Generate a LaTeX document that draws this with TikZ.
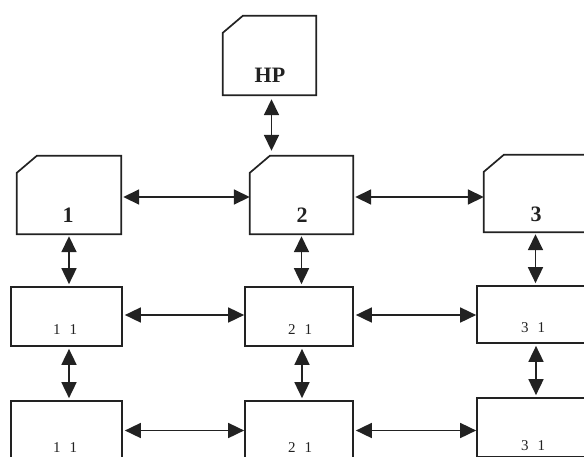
\documentclass[tikz,border=0pt]{standalone}
\usepackage{fontspec}
\setmainfont{Liberation Serif}
\usetikzlibrary{arrows.meta,calc}
\definecolor{ink}{HTML}{222222}
\tikzset{
  box/.style={draw=ink, line width=1.7pt, minimum width=#1, inner sep=0pt},
  ghost/.style={draw=none, minimum width=#1, inner sep=0pt},
  bigtxt/.style={font=\bfseries\fontsize{22}{22}\selectfont, text=ink, anchor=base, inner sep=0pt},
  smalltxt/.style={font=\fontsize{15}{15}\selectfont, text=ink, anchor=base, inner sep=0pt},
  link/.style={draw=ink, line width=1.7pt, {Triangle[length=16pt,width=15pt]}-{Triangle[length=16pt,width=15pt]}},
}
% chamfered outline: north-west corner cut off
\newcommand{\cutoutline}[1]{%
  \draw[draw=ink, line width=1.7pt, line join=miter]
    ([yshift=-17pt]#1.north west) -- ([xshift=20pt]#1.north west) --
    (#1.north east) -- (#1.south east) -- (#1.south west) -- cycle;}
\begin{document}
\begin{tikzpicture}[x=1pt,y=-1pt]
\useasboundingbox (0,0) rectangle (584,456);
\clip (0,0) rectangle (584,456);

% top-level units
\node[ghost=93pt, minimum height=79pt] (hp) at (269.5,55.5) {};
\node[ghost=104pt, minimum height=78pt] (u1) at (69,195) {};
\node[ghost=103pt, minimum height=78pt] (u2) at (301.5,195) {};
\node[ghost=103pt, minimum height=77pt] (u3) at (535.5,193.5) {};
\cutoutline{hp}
\cutoutline{u1}
\cutoutline{u2}
\cutoutline{u3}
\node[bigtxt] (hpt) at (270,82) {HP};
\node[bigtxt] (u1t) at (68,222) {1};
\node[bigtxt] (u2t) at (302,222) {2};
\node[bigtxt] (u3t) at (536,221) {3};

% second row
\node[box=111pt, minimum height=59pt] (a1) at (66.5,316.5) {};
\node[box=108pt, minimum height=59pt] (a2) at (299,316.5) {};
\node[box=111pt, minimum height=57pt] (a3) at (532.5,314.5) {};
\node[smalltxt] (a1t) at (65,334) {1\hspace{0.6em}1};
\node[smalltxt] (a2t) at (300,334) {2\hspace{0.6em}1};
\node[smalltxt] (a3t) at (533,332) {3\hspace{0.6em}1};

% third row
\node[box=111pt, minimum height=59pt] (b1) at (66.5,430.5) {};
\node[box=108pt, minimum height=59pt] (b2) at (299,430.5) {};
\node[box=111pt, minimum height=59pt] (b3) at (532.5,427.5) {};
\node[smalltxt] (b1t) at (65,452) {1\hspace{0.6em}1};
\node[smalltxt] (b2t) at (300,452) {2\hspace{0.6em}1};
\node[smalltxt] (b3t) at (533,450) {3\hspace{0.6em}1};

% vertical links
\draw[link, shorten <=4pt, shorten >=5pt] ([xshift=2pt]hp.south) -- ([xshift=2pt]hp.south |- u2.north);
\draw[link, shorten <=2pt, shorten >=2pt] (u1.south) -- (u1.south |- a1.north);
\draw[link, shorten <=2pt, shorten >=2pt] (u2.south) -- (u2.south |- a2.north);
\draw[link, shorten <=2pt, shorten >=2pt] (u3.south) -- (u3.south |- a3.north);
\draw[link, shorten <=2pt, shorten >=2pt] ([xshift=2.5pt]a1.south) -- ([xshift=2.5pt]a1.south |- b1.north);
\draw[link, shorten <=2pt, shorten >=2pt] ([xshift=3pt]a2.south) -- ([xshift=3pt]a2.south |- b2.north);
\draw[link, shorten <=2pt, shorten >=2pt] ([xshift=3.5pt]a3.south) -- ([xshift=3.5pt]a3.south |- b3.north);

% horizontal links
\draw[link, shorten <=2pt] ([yshift=-2pt]u1.east) -- ([yshift=-2pt]u1.east -| u2.west);
\draw[link, shorten <=2pt] ([yshift=-2pt]u2.east) -- ([yshift=-2pt]u2.east -| u3.west);
\draw[link, shorten <=2pt] ([yshift=1.5pt]a1.east) -- ([yshift=1.5pt]a1.east -| a2.west);
\draw[link, shorten <=2pt] ([yshift=1.5pt]a2.east) -- ([yshift=1.5pt]a2.east -| a3.west);
\draw[link, shorten <=2pt] (b1.east) -- (b1.east -| b2.west);
\draw[link, shorten <=2pt] (b2.east) -- (b2.east -| b3.west);
\end{tikzpicture}
\end{document}
